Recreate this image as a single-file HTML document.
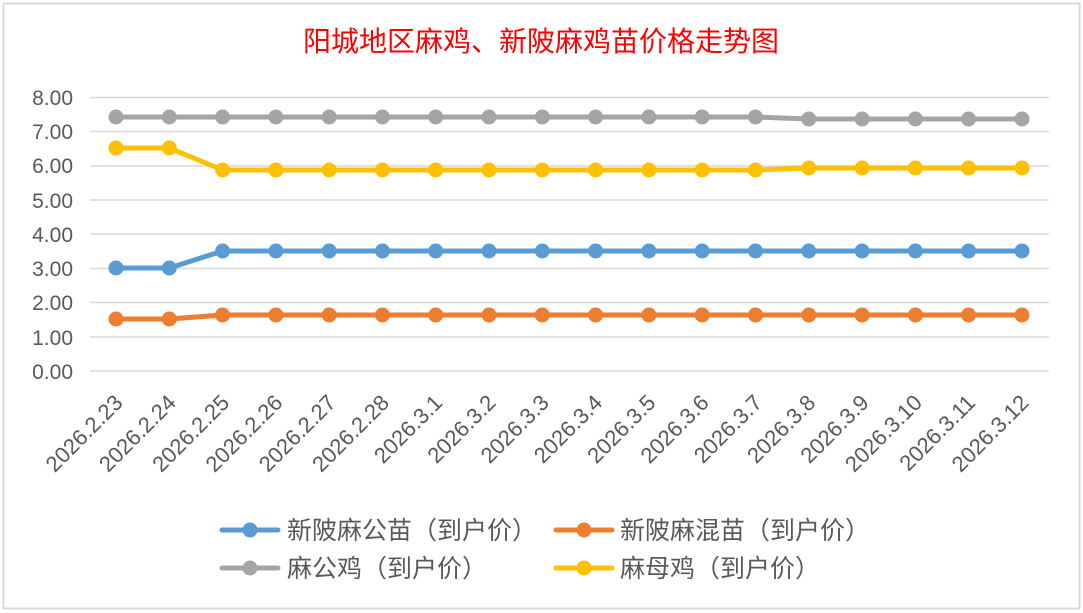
<!DOCTYPE html>
<html><head><meta charset="utf-8"><style>
body{margin:0;background:#fff}
svg{display:block}
text{font-family:"Liberation Sans","Noto Sans CJK SC",sans-serif}
</style></head><body>
<svg width="1083" height="613" viewBox="0 0 1083 613">
<rect x="0" y="0" width="1083" height="613" fill="#fff"/>
<rect x="3.5" y="3.5" width="1076" height="605" fill="#fff" stroke="#d9d9d9" stroke-width="2"/>
<text x="541" y="51" text-anchor="middle" font-size="28" fill="#ff0000" font-family="'Noto Serif CJK SC','Noto Sans CJK SC',serif">阳城地区麻鸡、新陂麻鸡苗价格走势图</text>
<g stroke="#d9d9d9" stroke-width="1.5">
<line x1="90" x2="1049" y1="97.5" y2="97.5"/><line x1="90" x2="1049" y1="131.5" y2="131.5"/>
<line x1="90" x2="1049" y1="166" y2="166"/><line x1="90" x2="1049" y1="200" y2="200"/>
<line x1="90" x2="1049" y1="234" y2="234"/><line x1="90" x2="1049" y1="268.5" y2="268.5"/>
<line x1="90" x2="1049" y1="302.5" y2="302.5"/><line x1="90" x2="1049" y1="337" y2="337"/>
<line x1="90" x2="1049" y1="371" y2="371"/>
</g>
<g font-size="21" fill="#595959" text-anchor="end">
<text x="73" y="105">8.00</text><text x="73" y="139">7.00</text><text x="73" y="173">6.00</text>
<text x="73" y="208">5.00</text><text x="73" y="242">4.00</text><text x="73" y="276">3.00</text>
<text x="73" y="310">2.00</text><text x="73" y="345">1.00</text><text x="73" y="379">0.00</text>
</g>
<g fill="none" stroke-width="5" stroke-linejoin="round">
<polyline stroke="#a5a5a5" points="116,117 169.3,117 222.6,117 275.9,117 329.2,117 382.5,117 435.7,117 489,117 542.3,117 595.6,117 648.9,117 702.2,117 755.5,117 808.8,119 862.1,119 915.4,119 968.6,119 1022,119"/>
<polyline stroke="#ffc000" points="116,148 169.3,148 222.6,170 275.9,170 329.2,170 382.5,170 435.7,170 489,170 542.3,170 595.6,170 648.9,170 702.2,170 755.5,170 808.8,168 862.1,168 915.4,168 968.6,168 1022,168"/>
<polyline stroke="#5b9bd5" points="116,268 169.3,268 222.6,251 275.9,251 329.2,251 382.5,251 435.7,251 489,251 542.3,251 595.6,251 648.9,251 702.2,251 755.5,251 808.8,251 862.1,251 915.4,251 968.6,251 1022,251"/>
<polyline stroke="#ed7d31" points="116,319 169.3,319 222.6,315 275.9,315 329.2,315 382.5,315 435.7,315 489,315 542.3,315 595.6,315 648.9,315 702.2,315 755.5,315 808.8,315 862.1,315 915.4,315 968.6,315 1022,315"/>
</g>
<g id="dots"></g>
<g id="labels" font-size="22" fill="#595959" text-anchor="end"></g>
<g>
<line x1="222" x2="278" y1="530" y2="530" stroke="#5b9bd5" stroke-width="5" stroke-linecap="round"/><circle cx="250" cy="530" r="7.5" fill="#5b9bd5"/>
<line x1="556" x2="612" y1="530" y2="530" stroke="#ed7d31" stroke-width="5" stroke-linecap="round"/><circle cx="584" cy="530" r="7.5" fill="#ed7d31"/>
<line x1="222" x2="278" y1="568" y2="568" stroke="#a5a5a5" stroke-width="5" stroke-linecap="round"/><circle cx="250" cy="568" r="7.5" fill="#a5a5a5"/>
<line x1="556" x2="612" y1="568" y2="568" stroke="#ffc000" stroke-width="5" stroke-linecap="round"/><circle cx="584" cy="568" r="7.5" fill="#ffc000"/>
<g font-size="25" fill="#595959" font-family="'Noto Serif CJK SC','Noto Sans CJK SC',serif">
<text x="287" y="539">新陂麻公苗（到户价）</text>
<text x="620" y="539">新陂麻混苗（到户价）</text>
<text x="287" y="577">麻公鸡（到户价）</text>
<text x="620" y="577">麻母鸡（到户价）</text>
</g>
</g>
</svg>
<script>
var xs=[116,169.3,222.6,275.9,329.2,382.5,435.7,489,542.3,595.6,648.9,702.2,755.5,808.8,862.1,915.4,968.6,1022];
var ser=[["#a5a5a5",i=>i<=12?117:119],["#ffc000",i=>i<2?148:(i<=12?170:168)],["#5b9bd5",i=>i<2?268:251],["#ed7d31",i=>i<2?319:315]];
var ns="http://www.w3.org/2000/svg",d=document.getElementById("dots"),l=document.getElementById("labels");
var labs=["2026.2.23","2026.2.24","2026.2.25","2026.2.26","2026.2.27","2026.2.28","2026.3.1","2026.3.2","2026.3.3","2026.3.4","2026.3.5","2026.3.6","2026.3.7","2026.3.8","2026.3.9","2026.3.10","2026.3.11","2026.3.12"];
ser.forEach(s=>xs.forEach((x,i)=>{var c=document.createElementNS(ns,"circle");c.setAttribute("cx",x);c.setAttribute("cy",s[1](i));c.setAttribute("r",7.5);c.setAttribute("fill",s[0]);d.appendChild(c);}));
xs.forEach((x,i)=>{var t=document.createElementNS(ns,"text");var ax=x+8,ay=404;t.setAttribute("x",ax);t.setAttribute("y",ay);t.setAttribute("transform","rotate(-45 "+ax+" "+ay+")");t.textContent=labs[i];l.appendChild(t);});
</script>
</body></html>
